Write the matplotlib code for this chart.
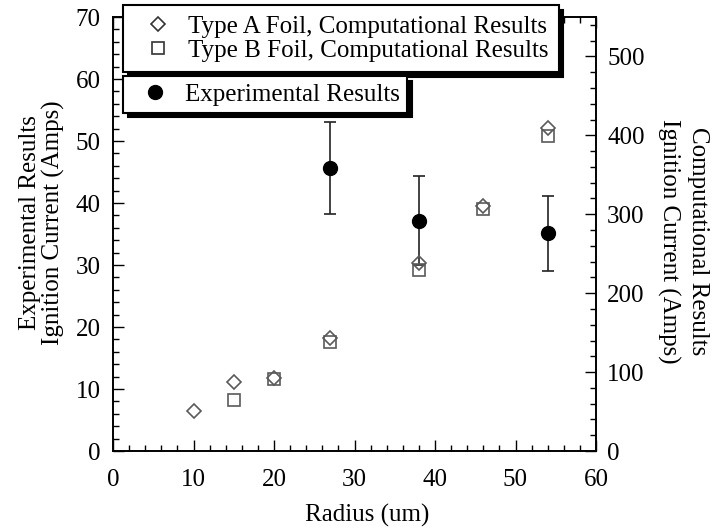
import matplotlib
matplotlib.use("Agg")
import matplotlib.pyplot as plt
from matplotlib.lines import Line2D
from matplotlib.ticker import MultipleLocator

plt.rcParams["font.family"] = ["Liberation Serif", "DejaVu Serif"]

# computational results (right axis)
radius_a = [10, 15, 20, 27, 38, 46, 54]
type_a = [51, 88, 93, 143, 238, 311, 409]
radius_b = [15, 20, 27, 38, 46, 54]
type_b = [65, 91, 138, 229, 307, 399]

# experimental results (left axis)
radius_exp = [27, 38, 54]
exp_current = [45.6, 37.1, 35.1]
exp_low = [38.2, 30.0, 29.1]
exp_high = [53.0, 44.3, 41.1]

FS = 18
GRAY = "#5a5a5a"
W, H = 713, 529

fig = plt.figure(figsize=(W / 100, H / 100), dpi=100)
ax = fig.add_axes([113 / W, 1 - 451 / H, 483 / W, 434 / H])
ax2 = ax.twinx()

yerr = [[c - lo for c, lo in zip(exp_current, exp_low)],
        [hi - c for c, hi in zip(exp_current, exp_high)]]
ax.errorbar(radius_exp, exp_current, yerr=yerr, fmt="o", color="black",
            markersize=10, ecolor="#222222", elinewidth=1.2, capsize=4, capthick=1.2)

ax2.plot(radius_b, type_b, "s", markersize=9, markerfacecolor="none",
         markeredgecolor=GRAY, markeredgewidth=1.2)
ax2.plot(radius_a, type_a, "D", markersize=7, markerfacecolor="none",
         markeredgecolor=GRAY, markeredgewidth=1.2)

ax.set_xlim(0, 60)
ax.set_ylim(0, 70)
ax2.set_ylim(0, 550)
ax.xaxis.set_major_locator(MultipleLocator(10))
ax.xaxis.set_minor_locator(MultipleLocator(2))
ax.yaxis.set_major_locator(MultipleLocator(10))
ax.yaxis.set_minor_locator(MultipleLocator(2))
ax2.yaxis.set_major_locator(MultipleLocator(100))
ax2.yaxis.set_minor_locator(MultipleLocator(20))

ax.tick_params(which="both", direction="in", top=True, labelsize=FS)
ax.tick_params(axis="x", which="major", pad=13)
ax.tick_params(axis="y", which="major", pad=9)
ax.tick_params(which="major", length=8, width=1)
ax.tick_params(which="minor", length=4, width=1)
ax2.tick_params(which="both", direction="in", labelsize=FS, pad=8)
ax2.tick_params(which="major", length=8, width=1)
ax2.tick_params(which="minor", length=4, width=1)
for a in (ax, ax2):
    for s in a.spines.values():
        s.set_linewidth(1.2)

fig.text(367 / W, 1 - 515 / H, "Radius (um)", fontsize=FS, ha="center", va="center")
fig.text(42 / W, 1 - 223 / H, "Experimental Results\nIgnition Current (Amps)",
         fontsize=FS, rotation=90, ha="center", va="center", linespacing=1.08)
fig.text(683 / W, 1 - 241 / H, "Computational Results\nIgnition Current (Amps)",
         fontsize=FS, rotation=270, ha="center", va="center", linespacing=1.4)

h_a = Line2D([], [], ls="none", marker="D", markersize=7, markerfacecolor="none",
             markeredgecolor="#333333", markeredgewidth=1.2)
h_b = Line2D([], [], ls="none", marker="s", markersize=9, markerfacecolor="none",
             markeredgecolor="#333333", markeredgewidth=1.2)
h_e = Line2D([], [], ls="none", marker="o", markersize=10, color="black")

shadow = {"color": "black", "alpha": 1.0, "ox": 3.5, "oy": -3.5}
common = dict(loc="upper left", fontsize=FS, frameon=True, fancybox=False,
              shadow=shadow, handlelength=2.0, handletextpad=0.2,
              borderaxespad=0, labelspacing=0.08)
leg1 = fig.legend([h_a, h_b], ["Type A Foil, Computational Results",
                               "Type B Foil, Computational Results"],
                  bbox_to_anchor=(123 / W, 1 - 5 / H), borderpad=0.4, **common)
leg2 = fig.legend([h_e], ["Experimental Results"],
                  bbox_to_anchor=(123 / W, 1 - 76 / H), borderpad=0.28, **common)
for leg in (leg1, leg2):
    fr = leg.get_frame()
    fr.set_edgecolor("black")
    fr.set_linewidth(1.5)
    fr.set_alpha(1.0)

fig.savefig("out.png", dpi=100)
